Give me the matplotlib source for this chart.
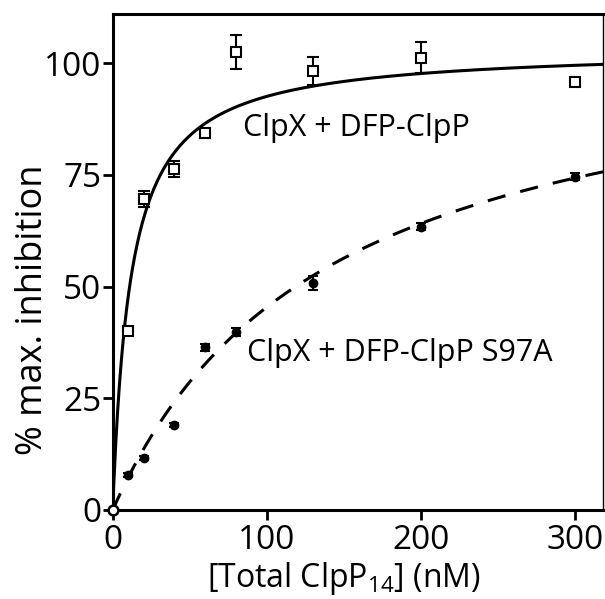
import numpy as np
import matplotlib
matplotlib.use("Agg")
import matplotlib.pyplot as plt

plt.rcParams['font.family'] = ['Open Sans', 'DejaVu Sans']

# Data
wt_x = [10, 20, 40, 60, 80, 130, 200, 300]
wt_y = [40, 69.5, 76.3, 84.3, 102.5, 98.3, 101.2, 95.7]
wt_err = [0.8, 1.8, 1.7, 1.0, 3.7, 3.1, 3.5, 0.8]

mut_x = [10, 20, 40, 60, 80, 130, 200, 300]
mut_y = [7.8, 11.6, 19.0, 36.4, 39.9, 50.8, 63.4, 74.6]
mut_err = [0.5, 0.5, 0.5, 0.8, 0.9, 1.5, 0.8, 0.8]

origin_x = [0]
origin_y = [0]

# Hyperbolic fit parameters
wt_fit_max, wt_fit_k = 103.4, 11.7
mut_fit_max, mut_fit_k = 109.0, 140.0

x_ticks = [0, 100, 200, 300]
y_ticks = [0, 25, 50, 75, 100]

fig = plt.figure(figsize=(6.05, 5.99), dpi=100)
ax = fig.add_axes([0.1863, 0.1486, 0.8104, 0.828])

xf = np.linspace(0, 318, 800)
ax.plot(xf, wt_fit_max * xf / (wt_fit_k + xf), color='black', lw=2.2, zorder=2)
ax.plot(xf, mut_fit_max * xf / (mut_fit_k + xf), color='black', lw=2.2,
        linestyle=(0, (6, 5)), zorder=2)

ax.errorbar(wt_x, wt_y, yerr=wt_err, fmt='s', ms=7.5, mfc='white', mec='black',
            mew=1.5, ecolor='black', elinewidth=1.5, capsize=4.5, capthick=1.5,
            zorder=3)
ax.errorbar(mut_x, mut_y, yerr=mut_err, fmt='o', ms=6, mfc='black', mec='black',
            ecolor='black', elinewidth=1.5, capsize=3.5, capthick=1.5, zorder=3)
ax.plot(origin_x, origin_y, 'o', ms=7, mfc='white', mec='black', mew=1.8,
        clip_on=False, zorder=5)

ax.text(84.5, 85.5, 'ClpX + DFP-ClpP', fontsize=22, va='center', ha='left')
ax.text(87, 35.1, 'ClpX + DFP-ClpP S97A', fontsize=22, va='center', ha='left')

ax.set_xlim(0, 318)
ax.set_ylim(0, 111)
ax.set_xticks(x_ticks)
ax.set_yticks(y_ticks)
ax.tick_params(axis='both', direction='out', length=7, width=2, labelsize=24)
ax.tick_params(axis='y', pad=1)
ax.tick_params(axis='x', pad=3)

for s in ['left', 'bottom', 'top']:
    ax.spines[s].set_linewidth(2.2)
ax.spines['right'].set_linewidth(1.0)

ax.set_xlabel('[Total ClpP$_{\\mathregular{14}}$] (nM)', fontsize=23)
ax.set_ylabel('% max. inhibition', fontsize=26)
ax.xaxis.set_label_coords(0.472, -0.138)
ax.yaxis.set_label_coords(-0.163, 0.403)
ax.xaxis.label.set_va('center')
ax.yaxis.label.set_va('center')

fig.savefig('out.png', dpi=100)
